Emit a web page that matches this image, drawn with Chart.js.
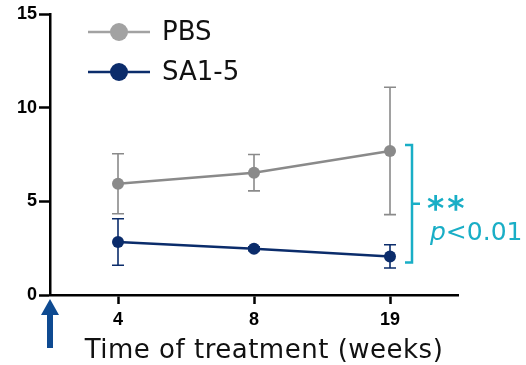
<!DOCTYPE html>
<html><head><meta charset="utf-8">
<script src="https://cdn.jsdelivr.net/npm/chart.js@4"></script>
<style>html,body{margin:0;padding:0;background:#fff}#wrap{width:526px;height:365px}</style>
</head><body><div id="wrap"><canvas id="c" width="526" height="365"></canvas></div>
<script>
const categories = ["4", "8", "19"];
const pbsMean = [5.94, 6.53, 7.69];
const pbsErr = [1.6, 0.97, 3.4];
const saMean = [2.83, 2.47, 2.06];
const saErr = [1.24, 0.1, 0.62];
const yTicks = [0, 5, 10, 15];
const seriesNames = ["PBS", "SA1-5"];
const xTitle = "Time of treatment (weeks)";
const sigStars = "**";
const sigText = "<0.01";

const GREY = "#8a8a8a", NAVY = "#0b2c6b", CYAN = "#19aec6", ARROW = "#0e4a91";
const TXT = "'DejaVu Sans', Verdana, sans-serif";

const errorPlugin = {
  id: "extras",
  afterDatasetsDraw(chart) {
    const ctx = chart.ctx, x = chart.scales.x, y = chart.scales.y;
    const errs = [pbsErr, saErr];
    ctx.save();
    chart.data.datasets.forEach((ds, di) => {
      ctx.strokeStyle = ds.borderColor; ctx.lineWidth = 1.6;
      ds.data.forEach((v, i) => {
        const e = errs[di][i];
        const px = x.getPixelForValue(i);
        const t = y.getPixelForValue(v + e), b = y.getPixelForValue(v - e);
        ctx.beginPath();
        ctx.moveTo(px, t); ctx.lineTo(px, b);
        ctx.moveTo(px - 6, t); ctx.lineTo(px + 6, t);
        ctx.moveTo(px - 6, b); ctx.lineTo(px + 6, b);
        ctx.stroke();
      });
    });
    ctx.restore();
  },
  afterDraw(chart) {
    const ctx = chart.ctx, x = chart.scales.x, y = chart.scales.y, ca = chart.chartArea;
    ctx.save();
    // bracket
    const bx = x.getPixelForValue(2) + 22;
    const bt = y.getPixelForValue(pbsMean[2]) - 6, bb = y.getPixelForValue(saMean[2]) + 6;
    const bm = (bt + bb) / 2;
    ctx.strokeStyle = CYAN; ctx.lineWidth = 2.5;
    ctx.beginPath();
    ctx.moveTo(bx - 7, bt); ctx.lineTo(bx, bt); ctx.lineTo(bx, bb); ctx.lineTo(bx - 7, bb);
    ctx.moveTo(bx, bm); ctx.lineTo(bx + 8, bm);
    ctx.stroke();
    ctx.fillStyle = CYAN;
    ctx.textBaseline = "alphabetic"; ctx.textAlign = "left";
    ctx.font = "bold 33px " + TXT;
    ctx.letterSpacing = "3px";
    ctx.fillText(sigStars, bx + 15, bm + 16);
    ctx.letterSpacing = "0px";
    ctx.font = "italic 25px " + TXT;
    ctx.fillText("p", bx + 18, bm + 36);
    const pw = ctx.measureText("p").width;
    ctx.font = "25px " + TXT;
    ctx.fillText(sigText, bx + 18 + pw, bm + 36);
    // legend
    const ds = chart.data.datasets;
    const lc = ["#a2a2a2", NAVY];
    [32, 72].forEach((ly, i) => {
      ctx.strokeStyle = lc[i]; ctx.lineWidth = 2.5;
      ctx.beginPath(); ctx.moveTo(88, ly); ctx.lineTo(150, ly); ctx.stroke();
      ctx.fillStyle = lc[i];
      ctx.beginPath(); ctx.arc(119, ly, 9, 0, Math.PI * 2); ctx.fill();
      ctx.fillStyle = "#111"; ctx.font = "26px " + TXT; ctx.textBaseline = "middle"; ctx.textAlign = "left";
      ctx.fillText(ds[i].label, 162, ly + 1);
    });
    // x title
    ctx.fillStyle = "#111"; ctx.font = "26px " + TXT; ctx.textAlign = "center"; ctx.textBaseline = "middle";
    ctx.letterSpacing = "0.5px";
    ctx.fillText(xTitle, 264, 351);
    ctx.letterSpacing = "0px";
    // arrow
    const ax = ca.left;
    ctx.fillStyle = ARROW;
    ctx.beginPath();
    ctx.moveTo(ax, ca.bottom + 4);
    ctx.lineTo(ax + 9, ca.bottom + 20);
    ctx.lineTo(ax + 3, ca.bottom + 20);
    ctx.lineTo(ax + 3, ca.bottom + 53);
    ctx.lineTo(ax - 3, ca.bottom + 53);
    ctx.lineTo(ax - 3, ca.bottom + 20);
    ctx.lineTo(ax - 9, ca.bottom + 20);
    ctx.closePath(); ctx.fill();
    ctx.restore();
  }
};

new Chart(document.getElementById("c"), {
  type: "line",
  data: {
    labels: categories,
    datasets: [
      { label: seriesNames[0], data: pbsMean, borderColor: GREY, backgroundColor: GREY, borderWidth: 2.5, pointRadius: 6, pointBackgroundColor: GREY, pointBorderWidth: 0 },
      { label: seriesNames[1], data: saMean, borderColor: NAVY, backgroundColor: NAVY, borderWidth: 2.5, pointRadius: 6, pointBackgroundColor: NAVY, pointBorderWidth: 0 }
    ]
  },
  options: {
    responsive: false, animation: false,
    layout: { padding: { top: 14, right: 68, left: 0, bottom: 0 } },
    plugins: { legend: { display: false }, tooltip: { enabled: false } },
    scales: {
      x: {
        offset: true,
        grid: { display: true, drawOnChartArea: false, drawTicks: true, tickLength: 9, tickColor: "#000", tickWidth: 2.5, offset: false },
        border: { display: true, color: "#000", width: 2.5 },
        ticks: { color: "#000", font: { family: "'Liberation Sans', Arial, sans-serif", size: 18, weight: "bold" }, padding: 5 },
        afterFit(s) { s.height = 70; }
      },
      y: {
        min: 0, max: 15,
        afterBuildTicks(s) { s.ticks = yTicks.map(v => ({ value: v })); },
        grid: { display: true, drawOnChartArea: false, drawTicks: true, tickLength: 11, tickColor: "#000", tickWidth: 2.5 },
        border: { display: true, color: "#000", width: 2.5 },
        ticks: { color: "#000", font: { family: "'Liberation Sans', Arial, sans-serif", size: 18, weight: "bold" }, padding: 2 },
        afterFit(s) { s.width = 50; }
      }
    }
  },
  plugins: [errorPlugin]
});
</script></body></html>
